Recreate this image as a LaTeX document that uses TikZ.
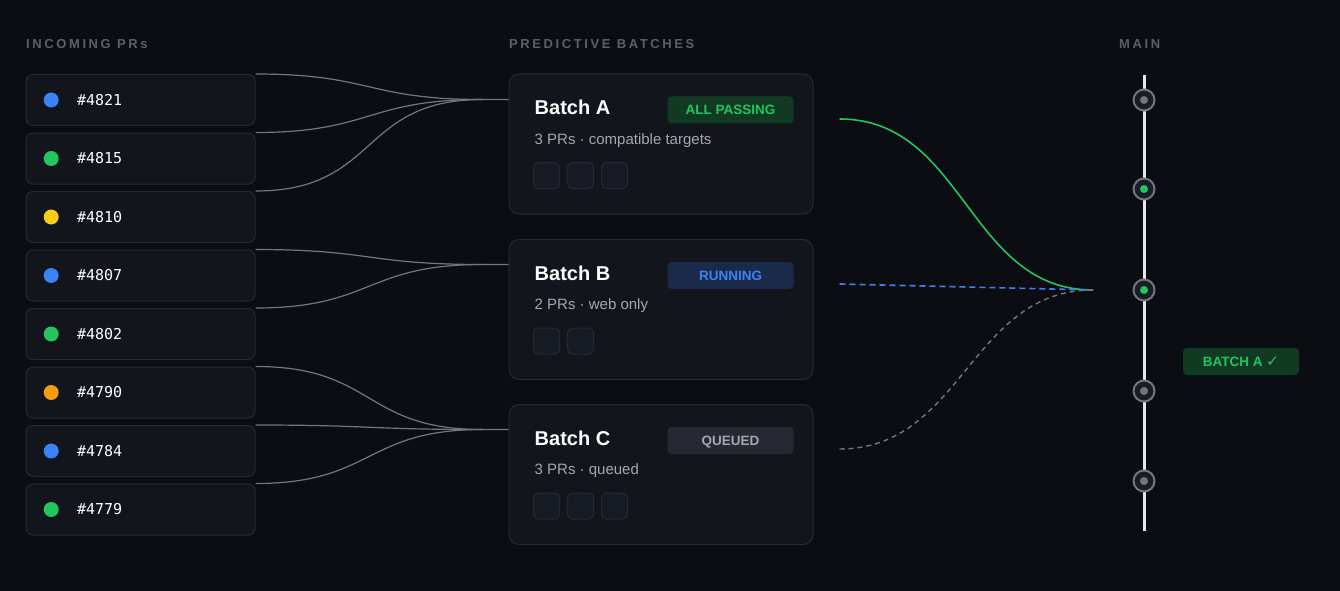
\documentclass[tikz,border=0pt]{standalone}
\usepackage{fontspec}
\setmainfont{Liberation Sans}
\newfontfamily\prmono{DejaVu Sans Mono}
\newfontfamily\checkfont{DejaVu Sans}
\usetikzlibrary{positioning}

\definecolor{bgdark}{HTML}{0B0D12}
\definecolor{boxfill}{HTML}{12151C}
\definecolor{boxline}{HTML}{262A33}
\definecolor{sqfill}{HTML}{161A22}
\definecolor{headgray}{HTML}{5A5F68}
\definecolor{subgray}{HTML}{A3A7AE}
\definecolor{linkgray}{HTML}{72767F}
\definecolor{prblue}{HTML}{3B82F6}
\definecolor{prgreen}{HTML}{22C55E}
\definecolor{pryellow}{HTML}{FACC15}
\definecolor{prorange}{HTML}{F59E0B}
\definecolor{passfill}{HTML}{123A23}
\definecolor{runfill}{HTML}{1A2A4A}
\definecolor{queuefill}{HTML}{262931}
\definecolor{mainline}{HTML}{E5E7EB}
\definecolor{commitfill}{HTML}{1A1D24}

\begin{document}
\begin{tikzpicture}[x=1pt,y=-1pt,
  prbox/.style={draw=boxline,fill=boxfill,line width=1pt,rounded corners=7pt,
    minimum width=229pt,minimum height=51pt,inner sep=0pt},
  prdot/.style={circle,minimum size=15pt,inner sep=0pt},
  prlabel/.style={text=white,font=\prmono\fontsize{15}{18}\selectfont,inner sep=0pt},
  heading/.style={text=headgray,inner sep=0pt,anchor=west,
    font=\bfseries\fontsize{13}{15}\selectfont\addfontfeature{LetterSpace=20}},
  batchbox/.style={draw=boxline,fill=boxfill,line width=1pt,rounded corners=10pt,
    minimum width=304pt,minimum height=140pt,inner sep=0pt},
  batchtitle/.style={text=white,anchor=west,inner sep=0pt,font=\bfseries\fontsize{20}{24}\selectfont},
  batchsub/.style={text=subgray,anchor=west,inner sep=0pt,font=\fontsize{15}{18}\selectfont},
  badge/.style={rounded corners=4pt,minimum width=126pt,minimum height=27pt,inner sep=0pt,
    text height=9.7pt,text depth=0pt,font=\bfseries\fontsize{13.5}{16}\selectfont},
  slot/.style={draw=boxline,fill=sqfill,line width=1pt,rounded corners=5pt,
    minimum size=26pt,inner sep=0pt},
  link/.style={draw=linkgray,line width=1.2pt},
  commit/.style={circle,draw=linkgray,fill=commitfill,line width=2pt,minimum size=21pt,inner sep=0pt},
  pip/.style={circle,minimum size=8pt,inner sep=0pt}]

\fill[bgdark] (0,0) rectangle (1340,591);

% column headings
\node[heading] (hin) at (26,44) {INCOMING PRs};
\node[heading] (hbatch) at (509,44) {PREDICTIVE BATCHES};
\node[heading] (hmain) at (1119,44) {MAIN};

% incoming PRs
\node[prbox] (pr4821) at (140.5,100) {};
\node[prbox] (pr4815) at (140.5,158.5) {};
\node[prbox] (pr4810) at (140.5,217) {};
\node[prbox] (pr4807) at (140.5,275.5) {};
\node[prbox] (pr4802) at (140.5,334) {};
\node[prbox] (pr4790) at (140.5,392.5) {};
\node[prbox] (pr4784) at (140.5,451) {};
\node[prbox] (pr4779) at (140.5,509.5) {};

\node[prdot,fill=prblue,right=18pt of pr4821.west] (d4821) {};
\node[prdot,fill=prgreen,right=18pt of pr4815.west] (d4815) {};
\node[prdot,fill=pryellow,right=18pt of pr4810.west] (d4810) {};
\node[prdot,fill=prblue,right=18pt of pr4807.west] (d4807) {};
\node[prdot,fill=prgreen,right=18pt of pr4802.west] (d4802) {};
\node[prdot,fill=prorange,right=18pt of pr4790.west] (d4790) {};
\node[prdot,fill=prblue,right=18pt of pr4784.west] (d4784) {};
\node[prdot,fill=prgreen,right=18pt of pr4779.west] (d4779) {};

\node[prlabel,right=18pt of d4821] (l4821) {\#4821};
\node[prlabel,right=18pt of d4815] (l4815) {\#4815};
\node[prlabel,right=18pt of d4810] (l4810) {\#4810};
\node[prlabel,right=18pt of d4807] (l4807) {\#4807};
\node[prlabel,right=18pt of d4802] (l4802) {\#4802};
\node[prlabel,right=18pt of d4790] (l4790) {\#4790};
\node[prlabel,right=18pt of d4784] (l4784) {\#4784};
\node[prlabel,right=18pt of d4779] (l4779) {\#4779};

% predictive batches
\node[batchbox] (batchA) at (661,144) {};
\node[batchbox] (batchB) at (661,309.5) {};
\node[batchbox] (batchC) at (661,474.5) {};

\node[batchtitle] (tA) at ([xshift=26pt,yshift=-34pt]batchA.north west) {Batch A};
\node[batchtitle] (tB) at ([xshift=26pt,yshift=-34pt]batchB.north west) {Batch B};
\node[batchtitle] (tC) at ([xshift=26pt,yshift=-34pt]batchC.north west) {Batch C};

\node[batchsub] (sA) at ([xshift=26pt,yshift=-67pt]batchA.north west) {3 PRs · compatible targets};
\node[batchsub] (sB) at ([xshift=26pt,yshift=-67pt]batchB.north west) {2 PRs · web only};
\node[batchsub] (sC) at ([xshift=26pt,yshift=-67pt]batchC.north west) {3 PRs · queued};

\node[badge,fill=passfill,text=prgreen] (bA) at ([xshift=-83pt,yshift=-36.5pt]batchA.north east) {ALL PASSING};
\node[badge,fill=runfill,text=prblue] (bB) at ([xshift=-83pt,yshift=-36.5pt]batchB.north east) {RUNNING};
\node[badge,fill=queuefill,text=subgray] (bC) at ([xshift=-83pt,yshift=-36.5pt]batchC.north east) {QUEUED};

\node[slot] (qA1) at ([xshift=38pt,yshift=-102pt]batchA.north west) {};
\node[slot,right=7pt of qA1] (qA2) {};
\node[slot,right=7pt of qA2] (qA3) {};
\node[slot] (qB1) at ([xshift=38pt,yshift=-102pt]batchB.north west) {};
\node[slot,right=7pt of qB1] (qB2) {};
\node[slot] (qC1) at ([xshift=38pt,yshift=-102pt]batchC.north west) {};
\node[slot,right=7pt of qC1] (qC2) {};
\node[slot,right=7pt of qC2] (qC3) {};

% PRs into batches
\coordinate (inA) at ([yshift=-26pt]batchA.north west);
\coordinate (inB) at ([yshift=-25.5pt]batchB.north west);
\coordinate (inC) at ([yshift=-25.5pt]batchC.north west);
\coordinate (jA) at ([xshift=-26pt]inA);
\coordinate (jB) at ([xshift=-26pt]inB);
\coordinate (jC) at ([xshift=-26pt]inC);
\draw[link] (pr4821.north east) to[out=0,in=180,looseness=1.3] (jA) -- (inA);
\draw[link] (pr4815.north east) to[out=0,in=180,looseness=1.3] (jA);
\draw[link] (pr4810.north east) to[out=0,in=180,looseness=1.3] (jA);
\draw[link] (pr4807.north east) to[out=0,in=180,looseness=1.3] (jB) -- (inB);
\draw[link] (pr4802.north east) to[out=0,in=180,looseness=1.3] (jB);
\draw[link] (pr4790.north east) to[out=0,in=180,looseness=1.3] (jC) -- (inC);
\draw[link] (pr4784.north east) to[out=0,in=180,looseness=1.3] (jC);
\draw[link] (pr4779.north east) to[out=0,in=180,looseness=1.3] (jC);

% main branch
\coordinate (mtop) at (1144,75);
\coordinate (mbot) at (1144,531);
\draw[mainline,line width=3pt] (mtop) -- (mbot);
\node[commit] (c1) at (1144,100) {};
\node[commit] (c2) at (1144,189) {};
\node[commit] (c3) at (1144,290) {};
\node[commit] (c4) at (1144,391) {};
\node[commit] (c5) at (1144,481) {};
\node[pip,fill=linkgray] at (c1) {};
\node[pip,fill=prgreen] at (c2) {};
\node[pip,fill=prgreen] at (c3) {};
\node[pip,fill=linkgray] at (c4) {};
\node[pip,fill=linkgray] at (c5) {};

\node[badge,fill=passfill,text=prgreen,minimum width=116pt] (merged) at (1241,361.5)
  {BATCH A {\checkfont\bfseries\fontsize{15}{16}\selectfont ✓}};

% batches towards main
\coordinate (merge) at ([xshift=-51pt]c3.center);
\coordinate (oA) at ([xshift=26pt,yshift=25pt]batchA.east);
\coordinate (oB) at ([xshift=26pt,yshift=25.5pt]batchB.east);
\coordinate (oC) at ([xshift=26pt,yshift=25.5pt]batchC.east);
\draw[prgreen,line width=1.6pt] (oA) to[out=0,in=180,looseness=1.05] (merge);
\draw[prblue,line width=1.6pt,dash pattern=on 6pt off 4pt] (oB) -- (merge);
\draw[linkgray,line width=1.4pt,dash pattern=on 5pt off 4pt] (oC) to[out=0,in=180,looseness=1.05] (merge);
\end{tikzpicture}
\end{document}
